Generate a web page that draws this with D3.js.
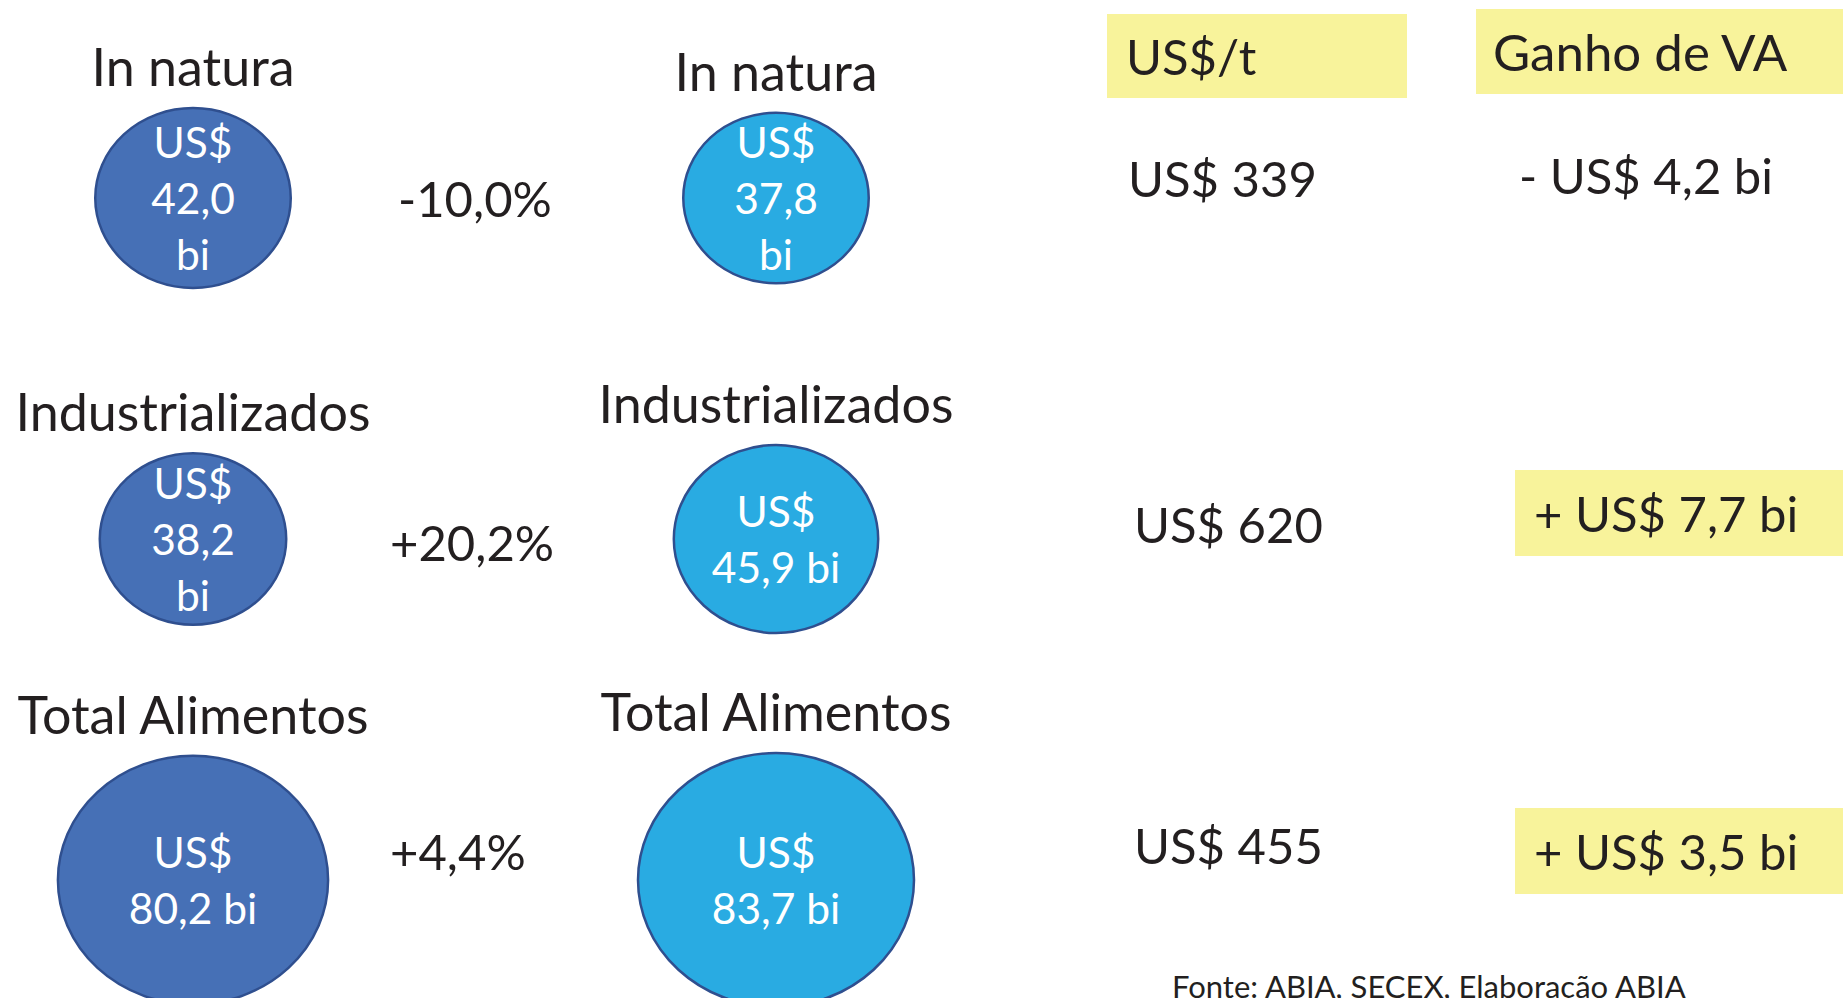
<!DOCTYPE html>
<html>
<head>
<meta charset="utf-8">
<script src="https://cdn.jsdelivr.net/npm/d3@7"></script>
<style>
  html, body { margin: 0; padding: 0; background: #ffffff; overflow: hidden; }
  text { font-family: Lato, "Open Sans", sans-serif; }
</style>
</head>
<body>
<div id="chart"></div>
<script>
// export values (US$ bi) before / after, by product group
const categories = ["In natura", "Industrializados", "Total Alimentos"];
const exportsBefore = [42.0, 38.2, 80.2];
const exportsAfter = [37.8, 45.9, 83.7];
const growthLabels = ["-10,0%", "+20,2%", "+4,4%"];
const pricePerTon = [339, 620, 455];
const valueAddedGain = [-4.2, 7.7, 3.5];
const headers = ["US$/t", "Ganho de VA"];
const source = "Fonte: ABIA, SECEX, Elaboração ABIA";

const WIDTH = 1843;
const HEIGHT = 998;
const darkBlue = "#4670b6";
const lightBlue = "#29abe2";
const outline = "#2f4f8f";
const yellow = "#f8f39b";
const ink = "#231f20";

const fmt = (v) => v.toFixed(1).replace(".", ",");

const svg = d3.select("#chart")
  .append("svg")
  .attr("width", WIDTH)
  .attr("height", HEIGHT);

// rows and columns
const y = d3.scalePoint().domain(categories).range([198, 880]);
const col = d3.scaleOrdinal()
  .domain(["before", "growth", "after", "price", "gain"])
  .range([193, 390, 776, 1128, 1515]);

// bubble size
const r = d3.scaleSqrt()
  .domain([0, d3.max(exportsAfter)])
  .range([0, 138]);
const aspect = 0.92;

function bubbles(values, key, fill) {
  const g = svg.append("g").attr("class", key);
  values.forEach((v, i) => {
    const cx = col(key);
    const cy = y(categories[i]);
    const rx = r(v);
    const ry = rx * aspect;

    g.append("text")
      .attr("x", cx)
      .attr("y", cy - ry - 22)
      .attr("text-anchor", "middle")
      .attr("font-size", 52)
      .attr("fill", ink)
      .text(categories[i]);

    g.append("ellipse")
      .attr("cx", cx)
      .attr("cy", cy)
      .attr("rx", rx)
      .attr("ry", ry)
      .attr("fill", fill)
      .attr("stroke", outline)
      .attr("stroke-width", 2.5);

    // narrow bubbles wrap onto three lines
    const lines = rx < 100 ? ["US$", fmt(v), "bi"] : ["US$", fmt(v) + " bi"];
    const first = cy - (lines.length - 1) * 28 + 16;
    lines.forEach((l, j) => {
      g.append("text")
        .attr("x", cx)
        .attr("y", first + j * 56)
        .attr("text-anchor", "middle")
        .attr("font-size", 42.5)
        .attr("fill", "#ffffff")
        .text(l);
    });
  });
}

bubbles(exportsBefore, "before", darkBlue);
bubbles(exportsAfter, "after", lightBlue);

// growth %
svg.append("g")
  .selectAll("text")
  .data(growthLabels)
  .join("text")
  .attr("x", (d, i) => col("growth") + (i ? 0 : 8))
  .attr("y", (d, i) => y(categories[i]) + [19, 22, -10][i])
  .attr("font-size", 49)
  .attr("fill", ink)
  .text((d) => d);

// headers
const head = svg.append("g");
head.append("rect")
  .attr("x", col("price") - 21).attr("y", 14)
  .attr("width", 300).attr("height", 84)
  .attr("fill", yellow);
head.append("text")
  .attr("x", col("price") - 2).attr("y", 75)
  .attr("font-size", 49).attr("fill", ink)
  .text(headers[0]);
head.append("rect")
  .attr("x", col("gain") - 39).attr("y", 9)
  .attr("width", WIDTH - col("gain") + 39).attr("height", 85)
  .attr("fill", yellow);
head.append("text")
  .attr("x", col("gain") - 22).attr("y", 71)
  .attr("font-size", 51).attr("fill", ink)
  .text(headers[1]);

// US$/t
svg.append("g")
  .selectAll("text")
  .data(pricePerTon)
  .join("text")
  .attr("x", (d, i) => col("price") + (i ? 6 : 0))
  .attr("y", (d, i) => y(categories[i]) + [-1, 4, -16][i])
  .attr("font-size", 49)
  .attr("fill", ink)
  .text((d) => "US$ " + d);

// value added gain
const gain = svg.append("g");
valueAddedGain.forEach((v, i) => {
  const base = y(categories[i]) + [-4, -7, -10][i];
  if (v > 0) {
    gain.append("rect")
      .attr("x", col("gain"))
      .attr("y", base - 62)
      .attr("width", WIDTH - col("gain"))
      .attr("height", 86)
      .attr("fill", yellow);
  }
  gain.append("text")
    .attr("x", col("gain") + (v > 0 ? 19 : 4))
    .attr("y", base)
    .attr("font-size", 49)
    .attr("fill", ink)
    .text((v < 0 ? "- " : "+ ") + "US$ " + fmt(Math.abs(v)) + " bi");
});

// source note (cut by the bottom edge, as in the original slide)
svg.append("text")
  .attr("x", 1172)
  .attr("y", 998)
  .attr("font-size", 31)
  .attr("fill", ink)
  .text(source);
</script>
</body>
</html>
